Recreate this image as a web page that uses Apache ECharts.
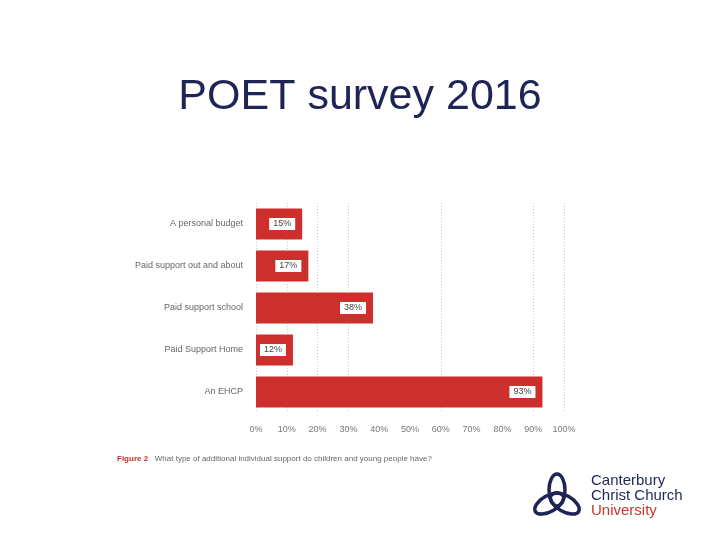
<!DOCTYPE html>
<html>
<head>
<meta charset="utf-8">
<script src="https://cdn.jsdelivr.net/npm/echarts@6/dist/echarts.min.js"></script>
<style>
  html, body { margin: 0; padding: 0; background: #fff; }
  #chart { width: 720px; height: 540px; }
</style>
</head>
<body>
<div id="chart"></div>
<script>
const categories = [
  'A personal budget',
  'Paid support out and about',
  'Paid support school',
  'Paid Support Home',
  'An EHCP',
]
const percentages = [15, 17, 38, 12, 93]
const xTicks = [0, 10, 20, 30, 40, 50, 60, 70, 80, 90, 100]
// the source only shows some of its dotted guides
const guideLines = [0, 10, 20, 30, 60, 90, 100]

const navy = '#1f2456'
const barRed = '#cd302c'
const labelGray = '#666'

const chart = echarts.init(document.getElementById('chart'))

// three loops for the university mark
const loops = [0, 120, 240].map((deg) => {
  const r = (deg * Math.PI) / 180
  return {
    type: 'ellipse',
    x: 557 + Math.sin(r) * 9,
    y: 499 - Math.cos(r) * 9,
    rotation: -r,
    shape: { cx: 0, cy: 0, rx: 8, ry: 16 },
    style: { fill: 'none', stroke: navy, lineWidth: 3.5 },
    silent: true,
  }
})

chart.setOption({
  animation: false,
  textStyle: { fontFamily: 'Liberation Sans, Arial, sans-serif' },
  title: {
    text: 'POET survey 2016',
    left: 'center',
    top: 71,
    textStyle: { color: navy, fontSize: 43, fontWeight: 'normal' },
  },
  grid: { left: 256, right: 156, top: 203, bottom: 127 },
  xAxis: {
    type: 'value',
    min: xTicks[0],
    max: xTicks[xTicks.length - 1],
    interval: 10,
    axisLine: { show: false },
    axisTick: { show: false },
    splitLine: { show: false },
    axisLabel: { color: '#777', fontSize: 9, margin: 12, formatter: '{value}%' },
  },
  yAxis: {
    type: 'category',
    inverse: true,
    data: categories,
    axisLine: { show: false },
    axisTick: { show: false },
    axisLabel: { color: labelGray, fontSize: 9, margin: 13 },
  },
  series: [
    {
      type: 'bar',
      data: percentages,
      barCategoryGap: '26%',
      itemStyle: { color: barRed },
      label: {
        show: true,
        position: 'insideRight',
        distance: 7,
        formatter: '{c}%',
        color: '#444',
        fontSize: 9,
        backgroundColor: '#fff',
        padding: [2, 4, 1, 4],
      },
      markLine: {
        silent: true,
        symbol: 'none',
        label: { show: false },
        lineStyle: { color: '#c8c8c8', type: [1, 2], width: 1 },
        data: guideLines.map((v) => ({ xAxis: v })),
        z: 0,
      },
      z: 2,
    },
  ],
  graphic: [
    {
      type: 'text',
      left: 117,
      top: 453,
      style: {
        text: '{a|Figure 2}  {b|What type of additional individual support do children and young people have?}',
        rich: {
          a: { fill: '#c4302c', fontWeight: 'bold', fontSize: 8, fontFamily: 'Liberation Sans' },
          b: { fill: '#666', fontSize: 8, fontFamily: 'Liberation Sans' },
        },
      },
    },
    ...loops,
    {
      type: 'text',
      left: 591,
      top: 473,
      style: { text: 'Canterbury', fill: navy, fontSize: 15, fontFamily: 'Liberation Sans' },
    },
    {
      type: 'text',
      left: 591,
      top: 488,
      style: { text: 'Christ Church', fill: navy, fontSize: 15, fontFamily: 'Liberation Sans' },
    },
    {
      type: 'text',
      left: 591,
      top: 503,
      style: { text: 'University', fill: '#c0392b', fontSize: 15, fontFamily: 'Liberation Sans' },
    },
  ],
})

window.addEventListener('resize', () => chart.resize())
</script>
</body>
</html>
